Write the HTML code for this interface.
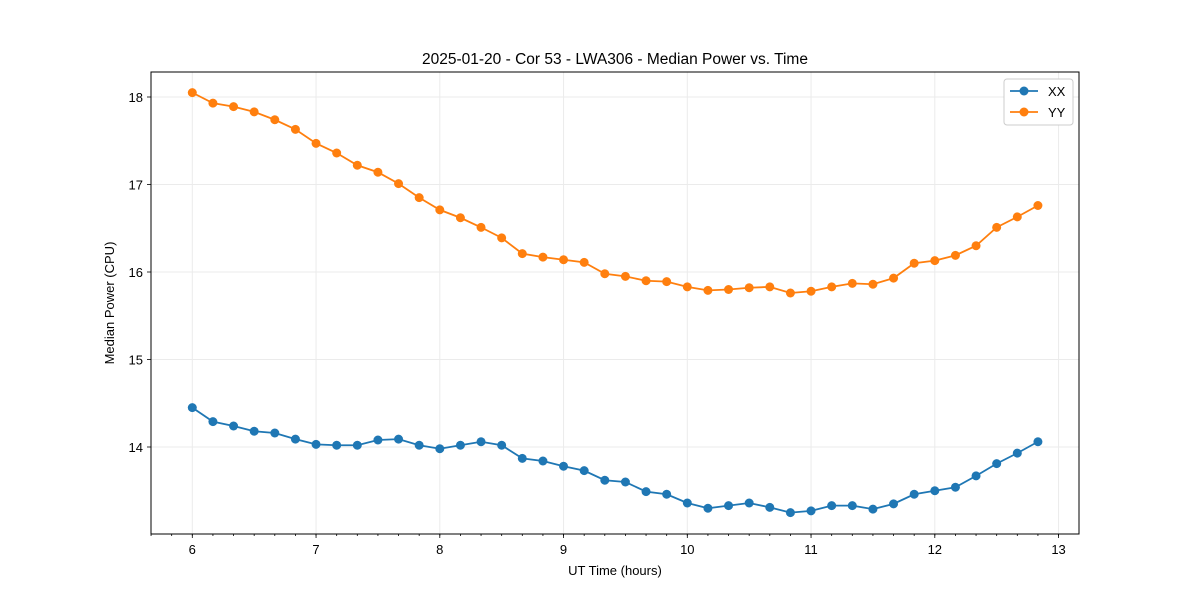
<!DOCTYPE html>
<html><head><meta charset="utf-8"><style>body{margin:0;background:#fff}svg{font-family:"Liberation Sans","DejaVu Sans",sans-serif}</style></head>
<body>
<svg id="c" width="1200" height="600"></svg>
<script>
const times = Array.from({length:42},(_, k)=>6+k/6);
const xxValues = [14.45,14.29,14.24,14.18,14.16,14.09,14.03,14.02,14.02,14.08,14.09,14.02,13.98,14.02,14.06,14.02,13.87,13.84,13.78,13.73,13.62,13.60,13.49,13.46,13.36,13.30,13.33,13.36,13.31,13.25,13.27,13.33,13.33,13.29,13.35,13.46,13.50,13.54,13.67,13.81,13.93,14.06];
const yyValues = [18.05,17.93,17.89,17.83,17.74,17.63,17.47,17.36,17.22,17.14,17.01,16.85,16.71,16.62,16.51,16.39,16.21,16.17,16.14,16.11,15.98,15.95,15.90,15.89,15.83,15.79,15.80,15.82,15.83,15.76,15.78,15.83,15.87,15.86,15.93,16.10,16.13,16.19,16.30,16.51,16.63,16.76];
const xTicks = [6,7,8,9,10,11,12,13];
const yTicks = [14,15,16,17,18];
const L=151,R=1079,T=72,B=534;
const xs=v=>192.3+(v-6)*123.75;
const ys=v=>447-(v-14)*87.5;
const svg=document.getElementById('c');
const NS='http://www.w3.org/2000/svg';
function mk(tag,attrs,parent){const e=document.createElementNS(NS,tag);for(const k in attrs)e.setAttribute(k,attrs[k]);(parent||svg).appendChild(e);return e;}
function txt(s,attrs){const e=mk('text',attrs);e.textContent=s;return e;}
xTicks.forEach(t=>{const g=mk('line',{x1:xs(t),x2:xs(t),y1:T,y2:B,stroke:'#ebebeb','stroke-width':1});

});
yTicks.forEach(t=>{const g=mk('line',{x1:L,x2:R,y1:ys(t),y2:ys(t),stroke:'#ebebeb','stroke-width':1});

});
for(let v=6-2/6;v<=13.2;v+=1/6){const x=xs(v);if(x<L||x>R)continue;mk('line',{x1:x,x2:x,y1:B,y2:B+2,stroke:'#000','stroke-width':0.8});}
xTicks.forEach(t=>{mk('line',{x1:xs(t),x2:xs(t),y1:B,y2:B+4,stroke:'#000','stroke-width':0.8});
const l=txt(t,{x:xs(t),y:B+20,'text-anchor':'middle','font-size':13});

});
yTicks.forEach(t=>{mk('line',{x1:L-4,x2:L,y1:ys(t),y2:ys(t),stroke:'#000','stroke-width':0.8});
const l=txt(t,{x:L-8,y:ys(t)+5,'text-anchor':'end','font-size':13});

});
function series(vals,color,name){
 const p=mk('polyline',{points:vals.map((v,i)=>xs(times[i])+','+ys(v)).join(' '),fill:'none',stroke:color,'stroke-width':1.8});
 
 
 vals.forEach((v,i)=>{const c=mk('circle',{cx:xs(times[i]),cy:ys(v),r:4.5,fill:color});
 
 });
}
series(xxValues,'#1f77b4','xx');
series(yyValues,'#ff7f0e','yy');
const f=mk('rect',{x:L,y:T,width:R-L,height:B-T,fill:'none',stroke:'#000','stroke-width':1});


const ti=txt('2025-01-20 - Cor 53 - LWA306 - Median Power vs. Time',{x:615,y:64,'text-anchor':'middle','font-size':15.5});


const xl=txt('UT Time (hours)',{x:615,y:575,'text-anchor':'middle','font-size':13});


const yl=txt('Median Power (CPU)',{x:114,y:303,'text-anchor':'middle','font-size':13,transform:'rotate(-90 114 303)'});


const lg=mk('g',{});


mk('rect',{x:1004,y:79,width:69,height:46,rx:3,fill:'#fff',stroke:'#ccc'},lg);
[['XX','#1f77b4',91],['YY','#ff7f0e',112]].forEach(([n,c,y])=>{
 const e=mk('g',{},lg);
 
 
 mk('line',{x1:1010,x2:1038,y1:y,y2:y,stroke:c,'stroke-width':1.8},e);
 mk('circle',{cx:1024,cy:y,r:4.5,fill:c},e);
 const t=mk('text',{x:1048,y:y+5,'font-size':13},e);t.textContent=n;
});
</script>
</body></html>
